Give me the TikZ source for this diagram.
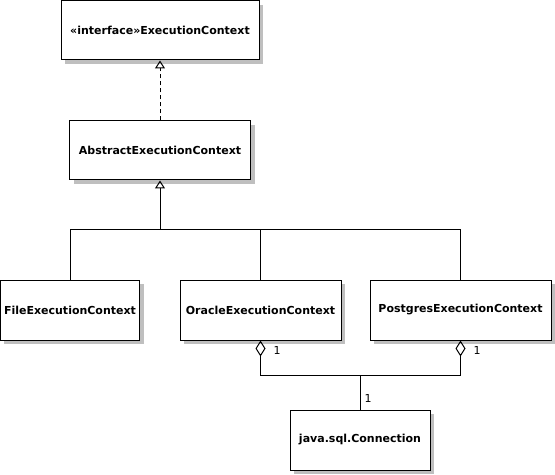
\documentclass[tikz,border=0pt]{standalone}
\usepackage{fontspec}
\setmainfont{DejaVu Sans}
\usetikzlibrary{arrows.meta,shadows}
\definecolor{shadowgray}{HTML}{BFBFBF}
\tikzset{
  cls/.style={draw, fill=white, rectangle, inner sep=0pt, line width=1bp,
    font=\fontsize{11bp}{13bp}\selectfont\bfseries,
    general shadow={fill=shadowgray, shadow xshift=4bp, shadow yshift=-4bp}},
  conn/.style={line width=1bp},
  mult/.style={inner sep=0pt, font=\fontsize{11bp}{13bp}\selectfont},
  gen/.style={conn, -{Triangle[open, length=8bp, width=10bp]}},
  agg/.style={conn, {Diamond[open, length=16bp, width=10bp]}-}
}
\begin{document}
\begin{tikzpicture}[x=1bp, y=-1bp]
\useasboundingbox (0,0) rectangle (555,475);
\node[cls, minimum width=198bp, minimum height=59bp] (iface) at (160,30.5) {«interface»ExecutionContext};
\node[cls, minimum width=181bp, minimum height=59bp] (abs) at (160,150.5) {AbstractExecutionContext};
\node[cls, minimum width=139bp, minimum height=60bp] (file) at (70,310) {FileExecutionContext};
\node[cls, minimum width=161bp, minimum height=60bp] (oracle) at (260.5,310) {OracleExecutionContext};
\node[cls, minimum width=181bp, minimum height=60bp] (pg) at (460.5,310) {PostgresExecutionContext};
\node[cls, minimum width=140bp, minimum height=60bp] (jdbc) at (360,440) {java.sql.Connection};

\draw[gen, dashed, dash pattern=on 4bp off 3bp] (abs.north) -- (iface.south);

\coordinate (gj) at (160,230);
\draw[gen] (gj) -- (abs.south);
\draw[conn] (file.north) |- (gj);
\draw[conn] (pg.north) |- (gj);
\draw[conn] (oracle.north) -- (oracle.north |- gj);

\coordinate (aj) at (360,375);
\draw[agg] (oracle.south) |- (aj);
\draw[agg] (pg.south) |- (aj);
\draw[conn] (aj) -- (jdbc.north);

\node[mult] (m1) at (277,350) {1};
\node[mult] (m2) at (477,350) {1};
\node[mult] (m3) at (368,398) {1};
\end{tikzpicture}
\end{document}
